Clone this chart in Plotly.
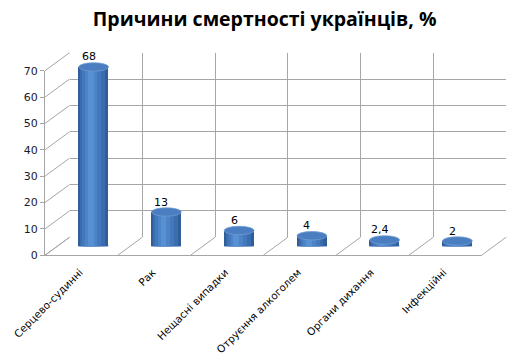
import plotly.graph_objects as go

# ---- data ----
categories = ["Серцево-судинні", "Рак", "Нещасні випадки", "Отруєння алкоголем", "Органи дихання", "Інфекційні"]
values = [68, 13, 6, 4, 2.4, 2]
value_labels = ["68", "13", "6", "4", "2,4", "2"]
y_ticks = [0, 10, 20, 30, 40, 50, 60, 70]

W, H = 510, 357
# back wall in pixels
XB0, XB1 = 69.5, 506.0
YB0, YB70 = 237.3, 52.7
DX, DY = -24.5, 18.0   # front plane offset relative to back wall
YMAX = 70
X0, X1 = -0.5, 5.5

def px_to_paper_x(px):
    return px / W

def px_to_paper_y(py):
    return 1 - py / H

def dom_x(f):
    return [px_to_paper_x(XB0 + DX * f), px_to_paper_x(XB1 + DX * f)]

def dom_y(f):
    return [px_to_paper_y(YB0 + DY * f), px_to_paper_y(YB70 + DY * f)]

def pt(xv, yv, f):
    """data value -> paper coords at depth fraction f (0 back, 1 front)"""
    px = XB0 + (xv - X0) / (X1 - X0) * (XB1 - XB0) + DX * f
    py = YB0 - yv / YMAX * (YB0 - YB70) + DY * f
    return px_to_paper_x(px), px_to_paper_y(py)

GRID = "#A6A6A6"
fig = go.Figure()

# empty traces so the back-wall and front-plane subplots are rendered
fig.add_trace(go.Scatter(x=[], y=[], xaxis="x", yaxis="y", showlegend=False))
fig.add_trace(go.Scatter(x=[], y=[], xaxis="x2", yaxis="y2", showlegend=False))

# ---- cylinders (middle depth, axes x3/y3) ----
bw = 0.41
layers = [
    (bw, 0.0, "#2F5E98"),
    (0.34, -0.01, "#3A6DAD"),
    (0.26, -0.02, "#4478BC"),
    (0.17, -0.03, "#4D83C7"),
    (0.08, -0.035, "#5890D4"),
]
for w, off, col in layers:
    fig.add_trace(go.Bar(
        x=list(range(len(categories))), y=values, width=w,
        offset=-w / 2 + off, marker=dict(color=col, line=dict(width=0)),
        xaxis="x3", yaxis="y3", hoverinfo="skip", showlegend=False,
    ))

ppu = (YB0 - YB70) / YMAX
cap_h = 4.2 / ppu
shapes = []
for i, v in enumerate(values):
    shapes.append(dict(type="circle", xref="x3", yref="y3", layer="below",
                       x0=i - bw / 2, x1=i + bw / 2, y0=-cap_h, y1=cap_h,
                       fillcolor="#3C6DAE", line=dict(width=0)))
    shapes.append(dict(type="circle", xref="x3", yref="y3", layer="above",
                       x0=i - bw / 2, x1=i + bw / 2, y0=v - cap_h, y1=v + cap_h,
                       fillcolor="#4A7EC0", line=dict(color="#6E9BD3", width=0.8)))

# ---- floor / side wall diagonal lines (paper) ----
for k in range(7):
    xv = X0 + k
    xa, ya = pt(xv, 0, 0)
    xb, yb = pt(xv, 0, 1)
    shapes.append(dict(type="line", xref="paper", yref="paper", layer="below",
                       x0=xa, y0=ya, x1=xb, y1=yb, line=dict(color=GRID, width=1)))
for t in y_ticks:
    xa, ya = pt(X0, t, 0)
    xb, yb = pt(X0, t, 1)
    shapes.append(dict(type="line", xref="paper", yref="paper", layer="below",
                       x0=xa, y0=ya, x1=xb, y1=yb, line=dict(color=GRID, width=1)))

annotations = []
for i, (v, lab) in enumerate(zip(values, value_labels)):
    annotations.append(dict(x=i, y=v, xref="x3", yref="y3", text=lab, showarrow=False,
                            xshift=-5, yshift=10, yanchor="middle",
                            font=dict(family="DejaVu Sans", size=11, color="#000000")))

label_shift = -0.02
fig.update_layout(
    template="none",
    width=W, height=H,
    margin=dict(l=0, r=0, t=0, b=0, autoexpand=False),
    paper_bgcolor="white", plot_bgcolor="rgba(0,0,0,0)",
    barmode="overlay", bargap=0,
    showlegend=False,
    title=dict(text="<b>Причини смертності українців, %</b>", x=0.519, xanchor="center",
               y=1 - 19 / H, yanchor="middle",
               font=dict(family="Open Sans", size=19.5, color="#000000")),
    xaxis=dict(domain=dom_x(0), range=[X0, X1], tickvals=[X0 + k for k in range(7)],
               showticklabels=False, showgrid=True, gridcolor=GRID, gridwidth=1,
               zeroline=False, showline=False, ticks="", anchor="y", fixedrange=True,
               automargin=False),
    yaxis=dict(domain=dom_y(0), range=[0, YMAX], tickvals=y_ticks, showticklabels=False,
               showgrid=True, gridcolor=GRID, gridwidth=1, zeroline=False,
               showline=False, ticks="", anchor="x", fixedrange=True, automargin=False),
    xaxis2=dict(domain=dom_x(1), range=[X0, X1],
                tickvals=[i + label_shift for i in range(len(categories))],
                ticktext=categories, tickangle=-45, showgrid=False, zeroline=False,
                showline=True, linecolor=GRID, linewidth=1, ticks="outside", ticklen=6,
                tickcolor="rgba(0,0,0,0)",
                tickfont=dict(family="DejaVu Sans", size=10.4, color="#000000"),
                anchor="y2", fixedrange=True, automargin=False),
    yaxis2=dict(domain=dom_y(1), range=[0, YMAX], tickvals=y_ticks,
                showgrid=False, zeroline=False, showline=True, linecolor=GRID, linewidth=1,
                ticks="outside", ticklen=4, tickcolor=GRID,
                tickfont=dict(family="DejaVu Sans", size=11, color="#1A1A2E"),
                anchor="x2", fixedrange=True, automargin=False),
    xaxis3=dict(domain=dom_x(0.5), range=[X0, X1], visible=False, anchor="y3",
                fixedrange=True, automargin=False),
    yaxis3=dict(domain=dom_y(0.5), range=[0, YMAX], visible=False, anchor="x3",
                fixedrange=True, automargin=False),
    shapes=shapes,
    annotations=annotations,
)

fig.write_html("out.html", config={"displayModeBar": False},
               post_script="document.body.style.margin='0px';document.body.style.overflow='hidden';")
